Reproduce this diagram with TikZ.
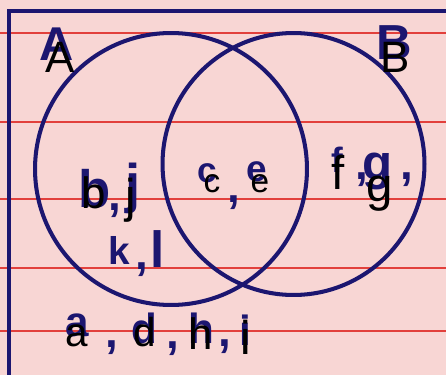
\documentclass[tikz,border=0pt]{standalone}
\usepackage{fontspec}
\setmainfont{Liberation Sans}
\usepackage{xcolor}
\usepackage{tikz}
\definecolor{papel}{RGB}{248,214,212}
\definecolor{tinta}{RGB}{28,22,112}
\definecolor{linha}{RGB}{226,64,60}
\newcommand{\fsz}[1]{\fontsize{#1}{#1}\selectfont}

\begin{document}
\begin{tikzpicture}[
  x=0.02cm, y=-0.02cm,
  pauta/.style = {draw=linha, line width=0.8pt},
  margem/.style = {draw=tinta, line width=2.5pt},
  anel/.style = {draw=tinta, line width=2.3pt, circle, inner sep=0},
  letra/.style = {inner sep=0, text=black, font=\fsz{25}},
  mao/.style = {inner sep=0, text=tinta, font=\fsz{24}\bfseries},
]
\fill[papel] (0,0) rectangle (446,375);
\useasboundingbox (0,0) rectangle (446,375);
% folha pautada
\foreach \y in {33,122,199,268,331} \draw[pauta] (0,\y) -- (446,\y);
\draw[margem] (9,375) -- (9,11) -- (446,11);
% conjuntos
\node[anel, minimum size=5.44cm] (cA) at (171,169) {};
\node[anel, minimum size=5.24cm] (cB) at (293.5,164) {};
% escrita a mao
\node[mao, font=\fsz{27}\bfseries] (mA) at (57,44) {A};
\node[mao, font=\fsz{28}\bfseries] (mB) at (394,43) {B};
\node[mao, font=\fsz{30}\bfseries] (mb) at (95,189) {b};
\node[mao, font=\fsz{26}\bfseries] (mv1) at (115,211) {,};
\node[mao, font=\fsz{31}\bfseries] (mj) at (133,188) {j};
\node[mao, font=\fsz{22}\bfseries] (mk) at (119,250) {k};
\node[mao, font=\fsz{26}\bfseries] (mv2) at (142,270) {,};
\node[mao, font=\fsz{29}\bfseries] (ml) at (158,249) {l};
\node[mao, font=\fsz{20}\bfseries] (mc) at (207,173) {c};
\node[mao, font=\fsz{26}\bfseries] (mv3) at (234,203) {,};
\node[mao, font=\fsz{21}\bfseries] (me) at (257,172) {e};
\node[mao, font=\fsz{20}\bfseries] (mf) at (337,160) {f};
\node[mao, font=\fsz{26}\bfseries] (mv4) at (362,180) {,};
\node[mao, font=\fsz{28}\bfseries] (mg) at (378,171) {g};
\node[mao, font=\fsz{26}\bfseries] (mv5) at (407,180) {,};
\node[mao] (ma) at (77,325) {a};
\node[mao, font=\fsz{26}\bfseries] (mv6) at (112,348) {,};
\node[mao] (md) at (144,328) {d};
\node[mao, font=\fsz{26}\bfseries] (mv7) at (173,349) {,};
\node[mao] (mh) at (201,328) {h};
\node[mao, font=\fsz{26}\bfseries] (mv8) at (225,347) {,};
\node[mao] (mi) at (245,330) {i};
% letras digitadas
\node[letra] (A) at (60,57) {A};
\node[letra] (B) at (395,57) {B};
\node[letra] (b) at (94,193) {b};
\node[letra, font=\fsz{27}] (j) at (131,200) {j};
\node[letra, font=\fsz{19}] (c) at (212,184) {c};
\node[letra, font=\fsz{19}] (e) at (260,184) {e};
\node[letra, font=\fsz{27}] (f) at (338,172) {f};
\node[letra, font=\fsz{27}] (g) at (380,194) {g};
\node[letra, font=\fsz{23}] (a) at (77,336) {a};
\node[letra, font=\fsz{23}] (d) at (145,332) {d};
\node[letra] (h) at (201,334) {h};
\node[letra, font=\fsz{27}] (i) at (246,337) {i};
\end{tikzpicture}
\end{document}
